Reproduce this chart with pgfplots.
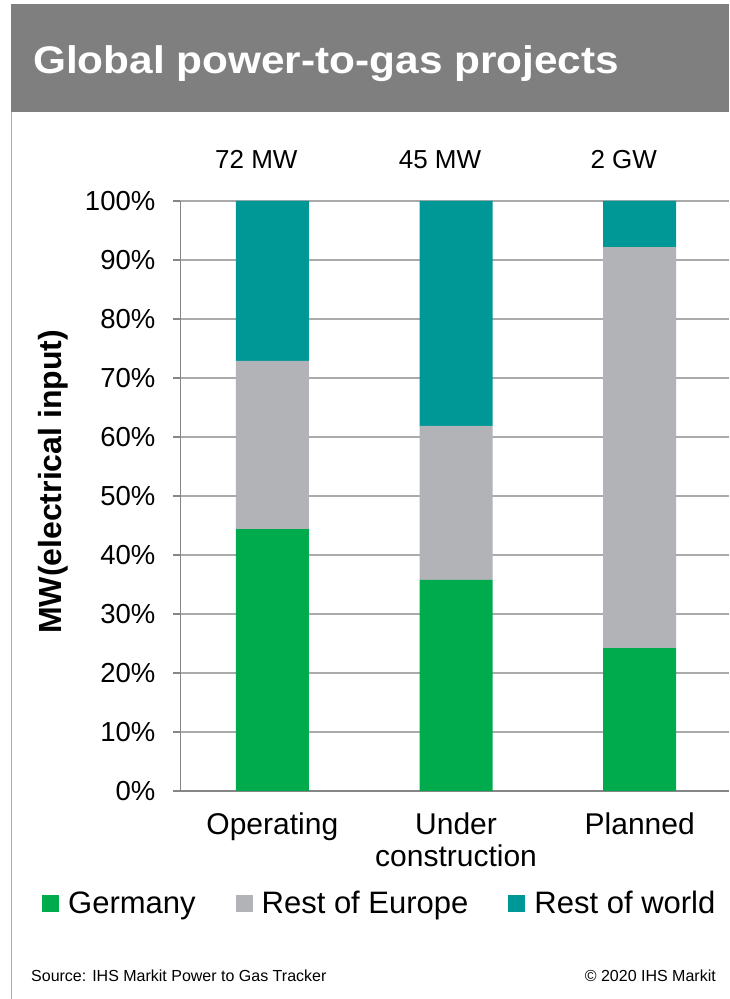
\documentclass[border=0pt]{standalone}
\usepackage{fontspec}
\setmainfont{Liberation Sans}
\newfontfamily\titlefont[FakeStretch=1.1]{Liberation Sans}
\usepackage{pgfplots}
\pgfplotsset{compat=1.18}
\definecolor{ger}{RGB}{0,171,78}
\definecolor{roe}{RGB}{178,179,183}
\definecolor{row}{RGB}{0,151,151}
\definecolor{band}{RGB}{127,127,127}
\definecolor{axclr}{RGB}{134,134,134}
\definecolor{gridclr}{RGB}{170,170,170}
\begin{document}
\begin{tikzpicture}
\useasboundingbox (0pt,0pt) rectangle (729pt,999pt);
\fill[white] (0pt,0pt) rectangle (729pt,999pt);
\fill[band] (11pt,887pt) rectangle (729pt,995pt);
\draw[gridclr, line width=1.2pt] (11.6pt,0pt) -- (11.6pt,887pt);
\node[anchor=base west, inner sep=0pt, text=white, font=\titlefont\bfseries\fontsize{38.5}{38.5}\selectfont] at (33pt,925pt) {Global power-to-gas projects};
\node[anchor=base west, inner sep=0pt, font=\fontsize{16}{16}\selectfont] at (31pt,17pt) {Source: IHS Markit Power to Gas Tracker};
\node[anchor=base east, inner sep=0pt, font=\fontsize{16}{16}\selectfont] at (716pt,17pt) {© 2020 IHS Markit};
\begin{axis}[
  at={(180.5pt,208pt)}, anchor=south west,
  scale only axis, width=548.5pt, height=590pt,
  ybar stacked, bar width=73pt,
  xmin=-0.5, xmax=2.486, ymin=0, ymax=100,
  axis x line*=bottom, axis y line*=left,
  axis line style={axclr, line width=1.2pt},
  xtick={0,1,2},
  xticklabels={Operating, Under\\construction, Planned},
  major x tick style={draw=none},
  extra x ticks={-0.5,0.5,1.5},
  extra x tick labels={},
  extra x tick style={grid=none, major tick length=7pt, tick style={axclr, line width=1.2pt}},
  ytick={0,10,...,100},
  tick align=outside,
  major tick length=7pt,
  y tick style={axclr, line width=1.2pt},
  ymajorgrids, major grid style={gridclr, line width=1.2pt},
  yticklabel={\pgfmathprintnumber{\tick}\%},
  /pgf/number format/assume math mode=true,
  yticklabel style={font=\fontsize{27.5}{27.5}\selectfont, inner sep=0pt, xshift=-18pt},
  xticklabel style={font=\fontsize{30}{32}\selectfont, align=center, inner sep=0pt, yshift=-15pt},
  ylabel={\bfseries MW(electrical input)},
  ylabel style={font=\fontsize{32}{32}\selectfont, at={(axis description cs:-0.232,0.524)}, anchor=center},
  legend columns=3,
  legend image code/.code={\fill[#1] (0pt,-8.5pt) rectangle (17pt,8.5pt); \path (26pt,0pt);},
  legend style={draw=none, fill=none, at={(axis description cs:-0.2525,-0.1905)}, anchor=west,
    inner sep=0pt, font=\fontsize{31}{31}\selectfont, nodes={inner sep=0pt},
    /tikz/every even column/.append style={column sep=40pt}},
  clip=false,
]
\addplot[fill=ger, draw=none] coordinates {(0,44.4) (1,35.8) (2,24.2)};
\addplot[fill=roe, draw=none] coordinates {(0,28.5) (1,26.1) (2,68.0)};
\addplot[fill=row, draw=none] coordinates {(0,27.1) (1,38.1) (2,7.8)};
\legend{Germany, Rest of Europe, Rest of world}
\node[anchor=base, inner sep=0pt, font=\fontsize{26}{26}\selectfont] at ([xshift=-16pt,yshift=32pt]axis cs:0,100) {72 MW};
\node[anchor=base, inner sep=0pt, font=\fontsize{26}{26}\selectfont] at ([xshift=-16pt,yshift=32pt]axis cs:1,100) {45 MW};
\node[anchor=base, inner sep=0pt, font=\fontsize{26}{26}\selectfont] at ([xshift=-16pt,yshift=32pt]axis cs:2,100) {2 GW};
\end{axis}
\end{tikzpicture}
\end{document}
